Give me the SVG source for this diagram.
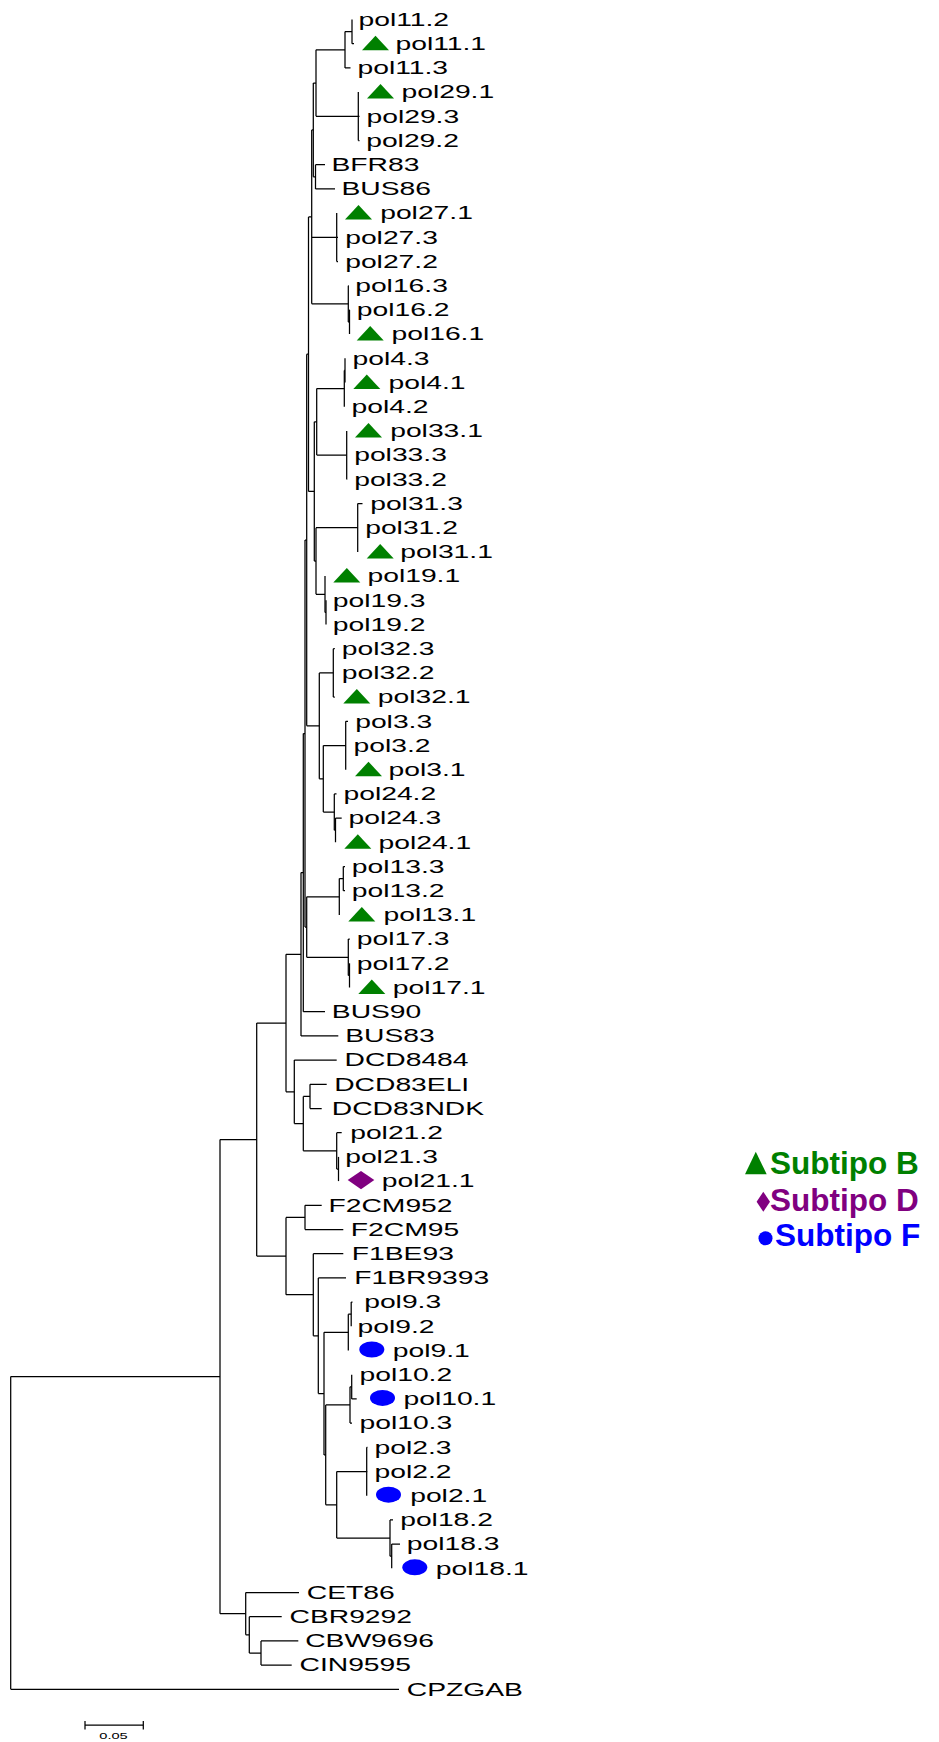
<svg xmlns="http://www.w3.org/2000/svg" xmlns:xlink="http://www.w3.org/1999/xlink" width="939" height="1742" viewBox="0 0 939 1742">
  <style>
    .br { fill: none; stroke: #000; stroke-width: 1.25; }
    .lb { font-family: "Liberation Sans", Arial, sans-serif; font-size: 18.6px; fill: #000; }
    .lg { font-family: "Liberation Sans", Arial, sans-serif; font-size: 31.5px; font-weight: bold; }
    .sb { font-family: "Liberation Sans", Arial, sans-serif; font-size: 8.6px; fill: #000; }
  </style>
  <defs>
    <polygon id="tri" points="0,-8 13.5,6.5 -13.5,6.5" fill="#008000"/>
    <polygon id="dia" points="0,-9.2 13.3,0 0,9.2 -13.3,0" fill="#800080"/>
    <ellipse id="dot" cx="0" cy="0" rx="12.5" ry="8" fill="#0000ff"/>
  </defs>

  <!-- branches: one path per internal node (vertical span plus child stems) -->
  <g id="branches" class="br">
    <path id="n-s11a" d="M352,19.5V43.7M352,43.7H354"/>
    <path id="n-s11" d="M345,31.6V67.9M345,31.6H352M345,67.9H350.5"/>
    <path id="n-s29" d="M358.3,92.1V140.5M358.3,116.3H359.5M358.3,140.5H359.5"/>
    <path id="n-1129" d="M316,49.75V116.3M316,49.75H345M316,116.3H358.3"/>
    <path id="n-bb" d="M315.5,164.7V188.9M315.5,164.7H325M315.5,188.9H335"/>
    <path id="n-a" d="M313.3,83V176.8M313.3,83H316M313.3,176.8H315.5"/>
    <path id="n-s27" d="M336.7,213.1V261.5M336.7,237.3H338M336.7,261.5H338"/>
    <path id="n-s16b" d="M349.5,309.9V334.1M349.5,309.9H350"/>
    <path id="n-s16" d="M348.3,285.7V322M348.3,322H349.5M348.3,285.7H348.8"/>
    <path id="n-b" d="M311.7,129.9V303.85M311.7,129.9H313.3M311.7,237.3H336.7M311.7,303.85H348.3"/>
    <path id="n-s4b" d="M345,358.3V382.5"/>
    <path id="n-s4" d="M344.3,370.4V406.7M344.3,370.4H345"/>
    <path id="n-d" d="M316.7,388.55V455.1M316.7,388.55H344.3M316.7,455.1H346.7"/>
    <path id="n-s33" d="M346.7,430.9V479.3M346.7,455.1H347.2M346.7,479.3H347.2"/>
    <path id="n-s31" d="M357.7,503.5V551.9M357.7,503.5H362.5"/>
    <path id="n-s19b" d="M326,600.3V624.5"/>
    <path id="n-s19" d="M325,576.1V612.4M325,612.4H326"/>
    <path id="n-e" d="M316,527.7V594.25M316,527.7H357.7M316,594.25H325"/>
    <path id="n-f" d="M314.3,421.8V561M314.3,421.8H316.7M314.3,561H316"/>
    <path id="n-c" d="M308.5,216.9V491.4M308.5,216.9H311.7M308.5,491.4H314.3"/>
    <path id="n-s32" d="M333.3,648.7V697.1M333.3,648.7H334.8M333.3,697.1H334.8"/>
    <path id="n-s3" d="M345.7,721.3V769.7M345.7,721.3H348"/>
    <path id="n-s24b" d="M335.5,818.1V842.3M335.5,818.1H341.7"/>
    <path id="n-s24" d="M334.3,793.9V830.2M334.3,793.9H336.5M334.3,830.2H335.5"/>
    <path id="n-j" d="M323.3,745.5V812.05M323.3,745.5H345.7M323.3,812.05H334.3"/>
    <path id="n-i" d="M319.3,672.9V778.8M319.3,672.9H333.3M319.3,778.8H323.3"/>
    <path id="n-h" d="M306.7,354.15V725.85M306.7,354.15H308.5M306.7,725.85H319.3"/>
    <path id="n-s13a" d="M343.3,866.5V890.7M343.3,866.5H345M343.3,890.7H345"/>
    <path id="n-s13" d="M339.3,878.6V914.9M339.3,878.6H343.3"/>
    <path id="n-s17b" d="M349.5,963.3V987.5"/>
    <path id="n-s17" d="M348.3,939.1V975.4M348.3,975.4H349.5M348.3,939.1H349.8"/>
    <path id="n-q" d="M306.7,896.75V957.25M306.7,896.75H339.3M306.7,957.25H348.3"/>
    <path id="n-k" d="M305,540V927M305,540H306.7M305,927H306.7"/>
    <path id="n-l" d="M303.3,733.5V1011.7M303.3,733.5H305M303.3,1011.7H325"/>
    <path id="n-bclade" d="M301,872.6V1035.9M301,872.6H303.3M301,1035.9H338.3"/>
    <path id="n-sen" d="M310,1084.3V1108.5M310,1084.3H326.7M310,1108.5H321.7"/>
    <path id="n-s21b" d="M338.5,1156.9V1181.1"/>
    <path id="n-s21" d="M336.7,1132.7V1169M336.7,1132.7H341.7M336.7,1169H338.5"/>
    <path id="n-d2" d="M303.3,1096.4V1150.85M303.3,1096.4H310M303.3,1150.85H336.7"/>
    <path id="n-dclade" d="M294.3,1060.1V1123.6M294.3,1060.1H336.7M294.3,1123.6H303.3"/>
    <path id="n-bd" d="M286,954.25V1091.85M286,954.25H301M286,1091.85H294.3"/>
    <path id="n-f2" d="M305,1205.3V1229.5M305,1205.3H321.7M305,1229.5H343.3"/>
    <path id="n-s9a" d="M351.2,1302.1V1326.3M351.2,1302.1H352.5"/>
    <path id="n-s9" d="M348.3,1314.2V1350.5M348.3,1314.2H351.2"/>
    <path id="n-s10a" d="M351.7,1374.7V1398.9M351.7,1398.9H356.7"/>
    <path id="n-s10" d="M350,1386.8V1423.1M350,1386.8H351.7M350,1423.1H352"/>
    <path id="n-s2" d="M366.7,1447.3V1495.7M366.7,1447.3H367.5M366.7,1471.5H367.5"/>
    <path id="n-s18b" d="M391.7,1544.1V1568.3M391.7,1544.1H400"/>
    <path id="n-s18" d="M390,1519.9V1556.2M390,1519.9H393M390,1556.2H391.7"/>
    <path id="n-f6" d="M336.7,1471.5V1538.05M336.7,1471.5H366.7M336.7,1538.05H390"/>
    <path id="n-f5" d="M325.7,1404.95V1504.8M325.7,1404.95H350M325.7,1504.8H336.7"/>
    <path id="n-f4" d="M324,1332.35V1454.9M324,1332.35H348.3M324,1454.9H325.7"/>
    <path id="n-f3" d="M318.3,1277.9V1393.6M318.3,1277.9H346M318.3,1393.6H324"/>
    <path id="n-f1" d="M313.3,1253.7V1335.75M313.3,1253.7H343.3M313.3,1335.75H318.3"/>
    <path id="n-fclade" d="M286,1217.4V1294.7M286,1217.4H305M286,1294.7H313.3"/>
    <path id="n-bdf" d="M256.7,1023.05V1256.05M256.7,1023.05H286M256.7,1256.05H286"/>
    <path id="n-cwi" d="M261,1640.9V1665.1M261,1640.9H298.3M261,1665.1H291.7"/>
    <path id="n-cb" d="M249.3,1616.7V1653M249.3,1616.7H281.7M249.3,1653H261"/>
    <path id="n-cclade" d="M245.7,1592.5V1634.85M245.7,1592.5H299M245.7,1634.85H249.3"/>
    <path id="n-bdfc" d="M220,1139.55V1613.7M220,1139.55H256.7M220,1613.7H245.7"/>
    <path id="n-root" d="M10.7,1376.6V1689.3M10.7,1376.6H220M10.7,1689.3H399"/>
  </g>

  <!-- leaves -->
  <g id="leaf-pol11-2"><text class="lb" transform="translate(358.5,25.8) scale(1.52,1)">pol11.2</text></g>
  <g id="leaf-pol11-1"><use href="#tri" x="375.5" y="43.7"/><text class="lb" transform="translate(395.5,50) scale(1.52,1)">pol11.1</text></g>
  <g id="leaf-pol11-3"><text class="lb" transform="translate(357.5,74.2) scale(1.52,1)">pol11.3</text></g>
  <g id="leaf-pol29-1"><use href="#tri" x="380.5" y="92.1"/><text class="lb" transform="translate(401.5,98.4) scale(1.52,1)">pol29.1</text></g>
  <g id="leaf-pol29-3"><text class="lb" transform="translate(366.5,122.6) scale(1.52,1)">pol29.3</text></g>
  <g id="leaf-pol29-2"><text class="lb" transform="translate(366.2,146.8) scale(1.52,1)">pol29.2</text></g>
  <g id="leaf-BFR83"><text class="lb" transform="translate(331.5,171) scale(1.52,1)">BFR83</text></g>
  <g id="leaf-BUS86"><text class="lb" transform="translate(341.5,195.2) scale(1.52,1)">BUS86</text></g>
  <g id="leaf-pol27-1"><use href="#tri" x="358.5" y="213.1"/><text class="lb" transform="translate(380.2,219.4) scale(1.52,1)">pol27.1</text></g>
  <g id="leaf-pol27-3"><text class="lb" transform="translate(345.2,243.6) scale(1.52,1)">pol27.3</text></g>
  <g id="leaf-pol27-2"><text class="lb" transform="translate(345.2,267.8) scale(1.52,1)">pol27.2</text></g>
  <g id="leaf-pol16-3"><text class="lb" transform="translate(355.2,292) scale(1.52,1)">pol16.3</text></g>
  <g id="leaf-pol16-2"><text class="lb" transform="translate(356.8,316.2) scale(1.52,1)">pol16.2</text></g>
  <g id="leaf-pol16-1"><use href="#tri" x="370.2" y="334.1"/><text class="lb" transform="translate(391.5,340.4) scale(1.52,1)">pol16.1</text></g>
  <g id="leaf-pol4-3"><text class="lb" transform="translate(352.5,364.6) scale(1.52,1)">pol4.3</text></g>
  <g id="leaf-pol4-1"><use href="#tri" x="366.8" y="382.5"/><text class="lb" transform="translate(388.5,388.8) scale(1.52,1)">pol4.1</text></g>
  <g id="leaf-pol4-2"><text class="lb" transform="translate(351.5,413) scale(1.52,1)">pol4.2</text></g>
  <g id="leaf-pol33-1"><use href="#tri" x="368.5" y="430.9"/><text class="lb" transform="translate(390.2,437.2) scale(1.52,1)">pol33.1</text></g>
  <g id="leaf-pol33-3"><text class="lb" transform="translate(354.2,461.4) scale(1.52,1)">pol33.3</text></g>
  <g id="leaf-pol33-2"><text class="lb" transform="translate(354.2,485.6) scale(1.52,1)">pol33.2</text></g>
  <g id="leaf-pol31-3"><text class="lb" transform="translate(370.2,509.8) scale(1.52,1)">pol31.3</text></g>
  <g id="leaf-pol31-2"><text class="lb" transform="translate(365.2,534) scale(1.52,1)">pol31.2</text></g>
  <g id="leaf-pol31-1"><use href="#tri" x="380.2" y="551.9"/><text class="lb" transform="translate(400.2,558.2) scale(1.52,1)">pol31.1</text></g>
  <g id="leaf-pol19-1"><use href="#tri" x="346.8" y="576.1"/><text class="lb" transform="translate(367.5,582.4) scale(1.52,1)">pol19.1</text></g>
  <g id="leaf-pol19-3"><text class="lb" transform="translate(332.8,606.6) scale(1.52,1)">pol19.3</text></g>
  <g id="leaf-pol19-2"><text class="lb" transform="translate(332.8,630.8) scale(1.52,1)">pol19.2</text></g>
  <g id="leaf-pol32-3"><text class="lb" transform="translate(341.8,655) scale(1.52,1)">pol32.3</text></g>
  <g id="leaf-pol32-2"><text class="lb" transform="translate(341.8,679.2) scale(1.52,1)">pol32.2</text></g>
  <g id="leaf-pol32-1"><use href="#tri" x="356.8" y="697.1"/><text class="lb" transform="translate(377.8,703.4) scale(1.52,1)">pol32.1</text></g>
  <g id="leaf-pol3-3"><text class="lb" transform="translate(355.2,727.6) scale(1.52,1)">pol3.3</text></g>
  <g id="leaf-pol3-2"><text class="lb" transform="translate(353.5,751.8) scale(1.52,1)">pol3.2</text></g>
  <g id="leaf-pol3-1"><use href="#tri" x="368.5" y="769.7"/><text class="lb" transform="translate(388.5,776) scale(1.52,1)">pol3.1</text></g>
  <g id="leaf-pol24-2"><text class="lb" transform="translate(343.5,800.2) scale(1.52,1)">pol24.2</text></g>
  <g id="leaf-pol24-3"><text class="lb" transform="translate(348.5,824.4) scale(1.52,1)">pol24.3</text></g>
  <g id="leaf-pol24-1"><use href="#tri" x="357.8" y="842.3"/><text class="lb" transform="translate(378.5,848.6) scale(1.52,1)">pol24.1</text></g>
  <g id="leaf-pol13-3"><text class="lb" transform="translate(351.8,872.8) scale(1.52,1)">pol13.3</text></g>
  <g id="leaf-pol13-2"><text class="lb" transform="translate(351.8,897) scale(1.52,1)">pol13.2</text></g>
  <g id="leaf-pol13-1"><use href="#tri" x="361.8" y="914.9"/><text class="lb" transform="translate(383.5,921.2) scale(1.52,1)">pol13.1</text></g>
  <g id="leaf-pol17-3"><text class="lb" transform="translate(356.8,945.4) scale(1.52,1)">pol17.3</text></g>
  <g id="leaf-pol17-2"><text class="lb" transform="translate(356.8,969.6) scale(1.52,1)">pol17.2</text></g>
  <g id="leaf-pol17-1"><use href="#tri" x="371.8" y="987.5"/><text class="lb" transform="translate(392.8,993.8) scale(1.52,1)">pol17.1</text></g>
  <g id="leaf-BUS90"><text class="lb" transform="translate(331.8,1018) scale(1.52,1)">BUS90</text></g>
  <g id="leaf-BUS83"><text class="lb" transform="translate(345.2,1042.2) scale(1.52,1)">BUS83</text></g>
  <g id="leaf-DCD8484"><text class="lb" transform="translate(344.5,1066.4) scale(1.52,1)">DCD8484</text></g>
  <g id="leaf-DCD83ELI"><text class="lb" transform="translate(334.2,1090.6) scale(1.52,1)">DCD83ELI</text></g>
  <g id="leaf-DCD83NDK"><text class="lb" transform="translate(331.8,1114.8) scale(1.52,1)">DCD83NDK</text></g>
  <g id="leaf-pol21-2"><text class="lb" transform="translate(350.2,1139) scale(1.52,1)">pol21.2</text></g>
  <g id="leaf-pol21-3"><text class="lb" transform="translate(345.2,1163.2) scale(1.52,1)">pol21.3</text></g>
  <g id="leaf-pol21-1"><use href="#dia" x="361" y="1180.1"/><text class="lb" transform="translate(381.8,1187.4) scale(1.52,1)">pol21.1</text></g>
  <g id="leaf-F2CM952"><text class="lb" transform="translate(328.5,1211.6) scale(1.52,1)">F2CM952</text></g>
  <g id="leaf-F2CM95"><text class="lb" transform="translate(350.8,1235.8) scale(1.52,1)">F2CM95</text></g>
  <g id="leaf-F1BE93"><text class="lb" transform="translate(351.8,1260) scale(1.52,1)">F1BE93</text></g>
  <g id="leaf-F1BR9393"><text class="lb" transform="translate(354.2,1284.2) scale(1.52,1)">F1BR9393</text></g>
  <g id="leaf-pol9-3"><text class="lb" transform="translate(364.2,1308.4) scale(1.52,1)">pol9.3</text></g>
  <g id="leaf-pol9-2"><text class="lb" transform="translate(357.5,1332.6) scale(1.52,1)">pol9.2</text></g>
  <g id="leaf-pol9-1"><use href="#dot" x="371.8" y="1349.5"/><text class="lb" transform="translate(392.8,1356.8) scale(1.52,1)">pol9.1</text></g>
  <g id="leaf-pol10-2"><text class="lb" transform="translate(359.5,1381) scale(1.52,1)">pol10.2</text></g>
  <g id="leaf-pol10-1"><use href="#dot" x="382.5" y="1397.9"/><text class="lb" transform="translate(403.5,1405.2) scale(1.52,1)">pol10.1</text></g>
  <g id="leaf-pol10-3"><text class="lb" transform="translate(359.5,1429.4) scale(1.52,1)">pol10.3</text></g>
  <g id="leaf-pol2-3"><text class="lb" transform="translate(374.5,1453.6) scale(1.52,1)">pol2.3</text></g>
  <g id="leaf-pol2-2"><text class="lb" transform="translate(374.5,1477.8) scale(1.52,1)">pol2.2</text></g>
  <g id="leaf-pol2-1"><use href="#dot" x="388.5" y="1494.7"/><text class="lb" transform="translate(410.2,1502) scale(1.52,1)">pol2.1</text></g>
  <g id="leaf-pol18-2"><text class="lb" transform="translate(400.2,1526.2) scale(1.52,1)">pol18.2</text></g>
  <g id="leaf-pol18-3"><text class="lb" transform="translate(406.8,1550.4) scale(1.52,1)">pol18.3</text></g>
  <g id="leaf-pol18-1"><use href="#dot" x="414.8" y="1567.3"/><text class="lb" transform="translate(435.8,1574.6) scale(1.52,1)">pol18.1</text></g>
  <g id="leaf-CET86"><text class="lb" transform="translate(306.8,1598.8) scale(1.52,1)">CET86</text></g>
  <g id="leaf-CBR9292"><text class="lb" transform="translate(289.5,1623) scale(1.52,1)">CBR9292</text></g>
  <g id="leaf-CBW9696"><text class="lb" transform="translate(305.2,1647.2) scale(1.52,1)">CBW9696</text></g>
  <g id="leaf-CIN9595"><text class="lb" transform="translate(299.5,1671.4) scale(1.52,1)">CIN9595</text></g>
  <g id="leaf-CPZGAB"><text class="lb" transform="translate(406.8,1695.6) scale(1.52,1)">CPZGAB</text></g>

  <!-- scale bar -->
  <g id="scale-bar">
    <path class="br" d="M85,1725H143.3M85,1721V1729.5M143.3,1721V1729.5"/>
    <text class="sb" text-anchor="middle" transform="translate(113.5,1739.3) scale(1.7,1)">0.05</text>
  </g>

  <!-- legend -->
  <g id="legend">
    <g id="legend-b">
      <polygon points="745,1174.3 766.7,1174.3 755.8,1151.7" fill="#008000"/>
      <text class="lg" x="770" y="1174.3" fill="#008000">Subtipo B</text>
    </g>
    <g id="legend-d">
      <polygon points="763.3,1191.7 770,1201.7 763.3,1211.7 756.6,1201.7" fill="#800080"/>
      <text class="lg" x="770" y="1210.5" fill="#800080">Subtipo D</text>
    </g>
    <g id="legend-f">
      <circle cx="765.5" cy="1238.3" r="7" fill="#0000ff"/>
      <text class="lg" x="775" y="1245.5" fill="#0000ff">Subtipo F</text>
    </g>
  </g>
</svg>
